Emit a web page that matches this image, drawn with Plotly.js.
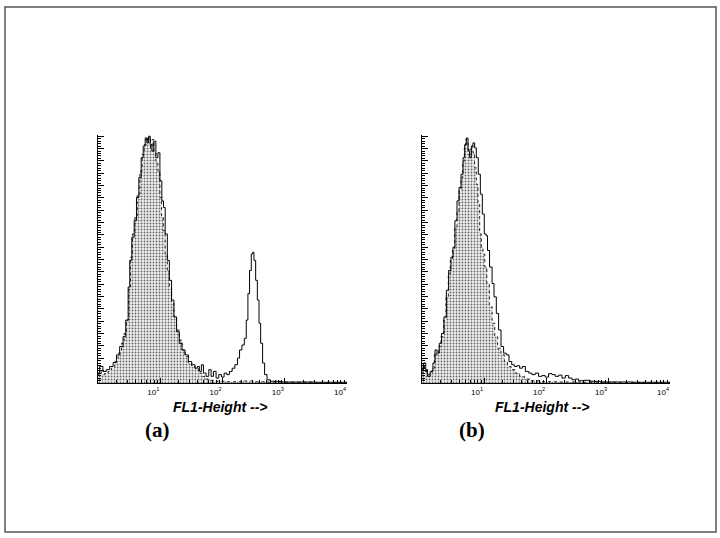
<!DOCTYPE html>
<html>
<head>
<meta charset="utf-8">
<script src="https://cdn.plot.ly/plotly-3.0.1.min.js"></script>
<style>html,body{margin:0;padding:0;background:#fff;}#chart{width:720px;height:538px;}</style>
</head>
<body>
<div id="chart"></div>
<script>
// Panel (a) - control (shaded) histogram: FL1 intensity vs relative count (% of max)
const aControlX = [1.00,1.04,1.13,1.28,1.45,1.64,1.86,2.10,2.38,2.63,2.86,3.12,3.32,3.58,3.90,4.26,4.70,5.12,5.52,5.95,6.25,6.56,6.98,7.43,7.90,8.51,9.17,9.88,10.5,11.2,12.0,13.0,14.0,15.2,16.6,18.3,20.2,22.4,25.0,28.3,32.0,36.2,41.0,46.4,52.5,63.2,81.0,117,193,316,519,1091,2938,10000];
const aControlY = [3.4,4.7,3.4,4.0,4.7,6.0,8.7,12.1,16.1,20.1,25.5,38.9,51.0,60.4,67.1,76.5,85.9,92.6,96.6,99.6,98.0,99.6,95.3,98.7,93.3,89.9,85.9,75.2,67.1,61.7,52.3,45.6,38.9,32.2,26.8,21.5,17.4,13.4,10.7,8.1,6.7,6.0,4.0,2.7,1.6,1.1,0.7,0.5,0.8,0.5,0.4,0.3,0.1,0.1];
// Panel (a) - sample (open outline) histogram
const aSampleX = [1.00,1.06,1.20,1.36,1.54,1.75,1.98,2.23,2.53,2.79,3.05,3.24,3.49,3.81,4.15,4.53,4.94,5.32,5.73,6.10,6.49,6.90,7.34,7.90,8.51,9.17,9.88,10.6,11.3,12.0,13.0,14.0,15.2,16.6,18.3,20.2,22.4,25.0,28.3,32.0,36.2,39.4,42.5,45.8,49.4,54.5,60.2,65.6,71.5,78.9,87.1,96.2,106,117,129,143,158,174,188,205,224,241,256,272,290,305,320,341,363,386,410,441,475,519,587,849,2938,10000];
const aSampleY = [4.0,6.7,4.7,5.4,6.7,8.3,11.4,14.8,18.8,25.5,38.9,49.7,59.1,65.8,75.2,83.2,91.3,96.0,99.3,97.3,100,96.6,94.0,98.0,91.3,93.3,81.9,73.8,71.1,60.4,49.7,41.6,33.6,26.8,20.8,16.1,13.4,11.4,8.7,7.4,6.0,6.7,4.7,7.4,4.0,2.7,5.4,2.7,4.7,2.0,3.4,2.4,4.0,3.4,4.7,6.0,7.4,10.1,13.4,15.4,18.1,25.5,36.2,45.6,52.3,53.0,49.7,41.6,33.6,24.2,16.1,8.1,3.4,1.3,0.7,0.4,0.3,0.1];
// Panel (b) - control (shaded) histogram
const bControlX = [1.00,1.04,1.10,1.20,1.33,1.45,1.58,1.70,1.86,2.02,2.24,2.44,2.66,2.86,3.12,3.37,3.67,3.95,4.26,4.53,4.82,5.06,5.31,5.58,5.87,6.24,6.64,7.06,7.51,7.99,8.51,9.06,9.63,10.3,11.1,12.2,13.5,14.9,16.6,18.8,21.3,24.0,27.4,31.9,37.6,44.8,55.8,81.0,150,403,1389,10000];
const bControlY = [4.0,7.4,4.7,3.4,4.0,6.0,12.1,11.4,14.8,18.8,25.5,34.9,44.3,49.7,53.7,63.1,69.8,77.9,83.2,89.9,95.3,98.7,97.3,92.6,94.6,96.0,93.3,87.2,80.5,72.5,60.4,55.0,52.3,47.0,40.3,30.9,24.2,18.8,14.1,11.4,8.7,6.7,5.4,4.0,2.7,1.6,0.9,0.5,0.4,0.3,0.1,0.1];
// Panel (b) - sample (open outline) histogram
const bSampleX = [1.00,1.06,1.15,1.23,1.36,1.50,1.62,1.75,1.90,2.07,2.26,2.47,2.69,2.93,3.16,3.40,3.67,3.95,4.26,4.59,4.88,5.19,5.52,5.87,6.24,6.64,7.06,7.51,8.09,8.73,9.40,10.1,10.8,11.4,12.3,13.5,14.5,15.8,17.2,18.8,20.7,22.9,25.3,28.0,30.9,34.0,37.6,41.5,46.5,52.7,59.3,67.1,75.9,85.9,97.3,110,125,141,160,181,205,232,263,297,336,403,517,754,2600,10000];
const bSampleY = [5.4,8.1,5.4,2.7,4.7,8.1,13.4,12.1,16.1,20.1,26.8,37.6,45.6,51.0,55.0,65.8,73.8,79.2,84.6,91.3,96.6,99.3,94.0,91.3,96.0,97.3,95.3,91.3,84.6,76.5,68.5,60.4,59.7,53.7,47.0,40.3,34.9,28.2,21.5,14.8,12.1,11.4,8.7,7.4,6.7,7.0,6.0,6.7,4.7,4.0,3.4,4.0,2.7,3.0,2.4,3.8,3.4,2.7,3.2,2.0,3.0,2.0,1.3,1.6,0.9,1.1,0.7,0.4,0.3,0.1];

const xTickVals = [10, 100, 1000, 10000];
const xTickText = ['10<sup>1</sup>', '10<sup>2</sup>', '10<sup>3</sup>', '10<sup>4</sup>'];
const axisTitle = 'FL1-Height -->';
const panelLabels = ['(a)', '(b)'];

const W = 720, H = 538;
const px = v => v / W;
const py = v => 1 - v / H;

const fillPat = {shape: '.', size: 3, solidity: 0.3, fgcolor: '#666', bgcolor: '#f0f0f0', fillmode: 'replace'};

function shaded(x, y, xa, ya) {
  return {x: x, y: y, xaxis: xa, yaxis: ya, type: 'scatter', mode: 'lines',
    line: {color: '#222', width: 1, dash: 'dot', shape: 'hv'},
    fill: 'tozeroy', fillcolor: '#e0e0e0', fillpattern: fillPat, hoverinfo: 'skip'};
}
function outline(x, y, xa, ya) {
  return {x: x, y: y, xaxis: xa, yaxis: ya, type: 'scatter', mode: 'lines',
    line: {color: '#000', width: 1, shape: 'hv'}, hoverinfo: 'skip'};
}

const data = [
  shaded(aControlX, aControlY, 'x', 'y'),
  outline(aSampleX, aSampleY, 'x', 'y'),
  shaded(bControlX, bControlY, 'x2', 'y2'),
  outline(bSampleX, bSampleY, 'x2', 'y2')
];

function xAxis(d0, d1, anchor) {
  return {
    type: 'log', range: [0, 4], domain: [px(d0), px(d1)], anchor: anchor,
    showline: true, linecolor: '#000', linewidth: 1, showgrid: false, zeroline: false,
    tickmode: 'array', tickvals: xTickVals, ticktext: xTickText,
    ticks: 'inside', ticklen: 5, tickwidth: 1, tickcolor: '#000',
    ticklabelshift: -7, ticklabelstandoff: 1,
    tickfont: {family: 'Liberation Sans, Arial, sans-serif', size: 8, color: '#000'},
    minor: {dtick: 'D1', ticks: 'inside', ticklen: 3, tickwidth: 1, tickcolor: '#000', showgrid: false},
    fixedrange: true
  };
}
function yAxis(anchor) {
  return {
    range: [0, 100.5], domain: [py(383), py(135)], anchor: anchor,
    showline: true, linecolor: '#000', linewidth: 1, showgrid: false, zeroline: false,
    tickmode: 'linear', tick0: 0, dtick: 5, ticks: 'inside', ticklen: 6, tickwidth: 1, tickcolor: '#000',
    showticklabels: false,
    minor: {dtick: 1, ticks: 'inside', ticklen: 3, tickwidth: 1, tickcolor: '#000', showgrid: false},
    fixedrange: true
  };
}

const titleFont = {family: 'Liberation Sans, Arial, sans-serif', size: 14, color: '#000', weight: 'bold', style: 'italic'};
const labelFont = {family: 'Liberation Serif, Times New Roman, serif', size: 21, color: '#000', weight: 'bold'};

const layout = {
  width: W, height: H, margin: {l: 0, r: 0, t: 0, b: 0},
  paper_bgcolor: '#fff', plot_bgcolor: 'rgba(0,0,0,0)', showlegend: false,
  xaxis: xAxis(98, 347, 'y'),
  yaxis: yAxis('x'),
  xaxis2: xAxis(422, 670, 'y2'),
  yaxis2: yAxis('x2'),
  shapes: [
    {type: 'rect', xref: 'paper', yref: 'paper', x0: px(5), x1: px(716), y0: py(532), y1: py(7),
      line: {color: '#555', width: 1.5}, fillcolor: 'rgba(0,0,0,0)'}
  ],
  annotations: [
    {text: axisTitle, xref: 'paper', yref: 'paper', x: px(220), y: py(407), showarrow: false,
      xanchor: 'center', yanchor: 'middle', font: titleFont},
    {text: axisTitle, xref: 'paper', yref: 'paper', x: px(542), y: py(407), showarrow: false,
      xanchor: 'center', yanchor: 'middle', font: titleFont},
    {text: panelLabels[0], xref: 'paper', yref: 'paper', x: px(157), y: py(430), showarrow: false,
      xanchor: 'center', yanchor: 'middle', font: labelFont},
    {text: panelLabels[1], xref: 'paper', yref: 'paper', x: px(472), y: py(430), showarrow: false,
      xanchor: 'center', yanchor: 'middle', font: labelFont}
  ]
};

Plotly.newPlot('chart', data, layout, {staticPlot: true, displayModeBar: false});
</script>
</body>
</html>
